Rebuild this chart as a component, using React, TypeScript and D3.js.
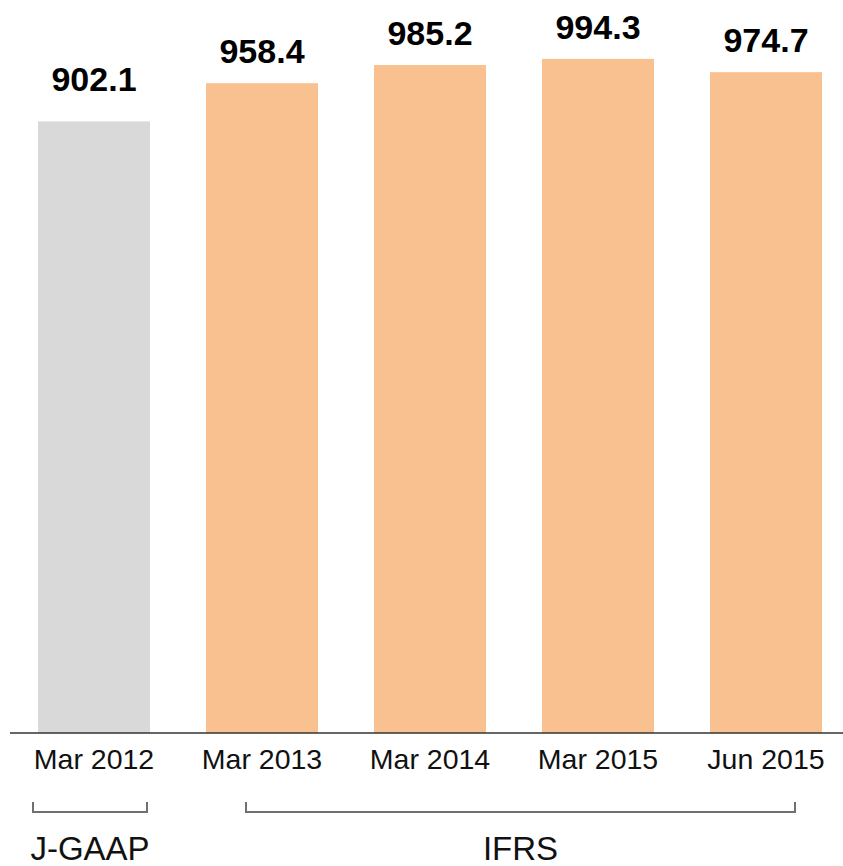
import React from "react";
import * as d3 from "d3";

const categories = ["Mar 2012", "Mar 2013", "Mar 2014", "Mar 2015", "Jun 2015"];
const values = [902.1, 958.4, 985.2, 994.3, 974.7];
const standards = ["J-GAAP", "IFRS", "IFRS", "IFRS", "IFRS"];
const groupLabels = ["J-GAAP", "IFRS"];

const W = 843;
const H = 866;
const baseY = 733;
const font = "'Liberation Sans', Arial, sans-serif";

const colorFor: Record<string, string> = {
  "J-GAAP": "#d9d9d9",
  IFRS: "#f9c190",
};

// value label distance above bar top, per accounting standard
const labelGap: Record<string, number> = {
  "J-GAAP": 30,
  IFRS: 20,
};

// bracket insets relative to the band of first / last bar of the group
const bracketInset: Record<string, [number, number]> = {
  "J-GAAP": [-5, -3],
  IFRS: [40, -27],
};

export default function App() {
  const x = d3
    .scaleBand<string>()
    .domain(categories)
    .range([10, 850])
    .paddingInner(1 / 3)
    .paddingOuter(1 / 6);

  const y = d3.scaleLinear().domain([0, 1000]).range([baseY, 55]);

  const groups = groupLabels.map((g) => {
    const cats = categories.filter((_, i) => standards[i] === g);
    const x0 = (x(cats[0]) as number) + bracketInset[g][0];
    const x1 = (x(cats[cats.length - 1]) as number) + x.bandwidth() + bracketInset[g][1];
    return { label: g, x0, x1 };
  });

  return (
    <svg
      width={W}
      height={H}
      style={{ position: "absolute", left: 0, top: 0, background: "#fff" }}
      fontFamily={font}
    >
      {categories.map((c, i) => (
        <g key={c}>
          <rect
            x={x(c)}
            y={y(values[i])}
            width={x.bandwidth()}
            height={baseY - y(values[i])}
            fill={colorFor[standards[i]]}
          />
          <text
            x={(x(c) as number) + x.bandwidth() / 2}
            y={y(values[i]) - labelGap[standards[i]]}
            textAnchor="middle"
            fontSize={34}
            fontWeight="bold"
            fill="#000"
          >
            {values[i].toFixed(1)}
          </text>
          <text
            x={(x(c) as number) + x.bandwidth() / 2}
            y={769}
            textAnchor="middle"
            fontSize={28.5}
            fill="#111"
          >
            {c}
          </text>
        </g>
      ))}
      <line x1={10} x2={W} y1={baseY} y2={baseY} stroke="#333" strokeWidth={1.5} />
      {groups.map((g) => (
        <g key={g.label}>
          <path
            d={`M${g.x0},802V812H${g.x1}V802`}
            fill="none"
            stroke="#707070"
            strokeWidth={2}
          />
          <text
            x={(g.x0 + g.x1) / 2}
            y={860}
            textAnchor="middle"
            fontSize={33}
            fill="#111"
          >
            {g.label}
          </text>
        </g>
      ))}
    </svg>
  );
}
